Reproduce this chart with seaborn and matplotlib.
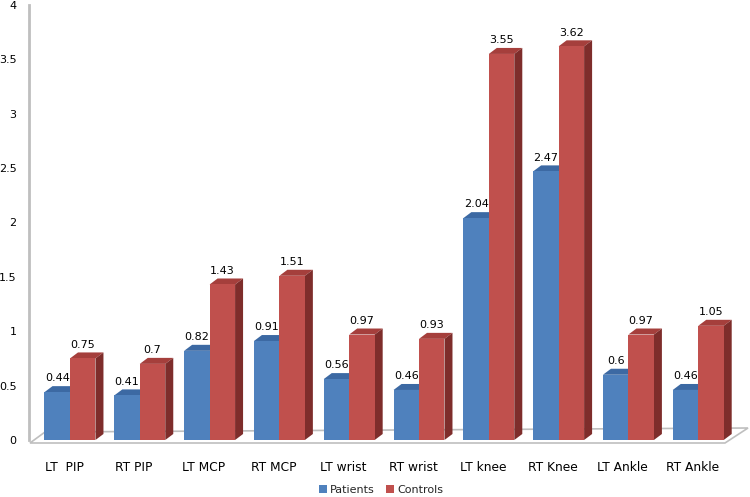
import matplotlib
matplotlib.use("Agg")
import matplotlib.pyplot as plt
import matplotlib.transforms as mtransforms
from matplotlib.patches import Polygon, Patch
import seaborn as sns
import pandas as pd

categories = ["LT  PIP", "RT PIP", "LT MCP", "RT MCP", "LT wrist", "RT wrist",
              "LT knee", "RT Knee", "LT Ankle", "RT Ankle"]
patients = [0.44, 0.41, 0.82, 0.91, 0.56, 0.46, 2.04, 2.47, 0.6, 0.46]
controls = [0.75, 0.7, 1.43, 1.51, 0.97, 0.93, 3.55, 3.62, 0.97, 1.05]
series = ["Patients", "Controls"]
yticks = [0, 0.5, 1, 1.5, 2, 2.5, 3, 3.5, 4]

front = {"Patients": "#4F81BD", "Controls": "#C0504D"}
topc = {"Patients": "#3C69A3", "Controls": "#A53F3C"}
sidec = {"Patients": "#2F5584", "Controls": "#7E2D2B"}

df = pd.DataFrame({
    "Joint": categories * 2,
    "Value": patients + controls,
    "Group": [series[0]] * len(categories) + [series[1]] * len(categories),
})

sns.set_theme(style="white")
plt.rcParams["font.family"] = ["DejaVu Sans"]

fig = plt.figure(figsize=(7.5, 4.97), dpi=100)
ax = fig.add_axes([29 / 750, 57 / 497, (748 - 29) / 750, (440 - 5) / 497])

sns.barplot(data=df, x="Joint", y="Value", hue="Group", hue_order=series,
            palette=front, width=0.73, saturation=1, legend=False, ax=ax,
            linewidth=0, order=categories)

ax.set_xlim(-0.587, 9.713)
ax.set_ylim(0, 4)

# pseudo-3D depth
dx = 8 / 69.8
dy = 6 / 108.75

for i, (cont, name) in enumerate(zip(ax.containers, series)):
    base_z = 3 + 2 * i
    for bar in cont:
        bar.set_zorder(base_z)
        x0 = bar.get_x()
        w = bar.get_width()
        h = bar.get_height()
        x1 = x0 + w
        top = Polygon([(x0, h), (x1, h), (x1 + dx, h + dy), (x0 + dx, h + dy)],
                      closed=True, facecolor=topc[name], edgecolor="none",
                      zorder=base_z - 0.5)
        side = Polygon([(x1, 0), (x1 + dx, dy), (x1 + dx, h + dy), (x1, h)],
                       closed=True, facecolor=sidec[name], edgecolor="none",
                       zorder=base_z - 0.5)
        ax.add_patch(top)
        ax.add_patch(side)
        ax.annotate(f"{h:g}", (x0 + w / 2, h + dy), xytext=(0, 2),
                    textcoords="offset points", ha="center", va="bottom",
                    fontsize=8, color="black", zorder=10)

# floor (styling, axes-fraction coords)
def px(xp, yp):
    return ((xp - 29) / 719, (440 - yp) / 435)

floor_pts = [px(30, 443), px(725, 443), px(748, 428), px(45, 432)]
floor = Polygon(floor_pts, closed=True, transform=ax.transAxes,
                facecolor="white", edgecolor="#BFBFBF", linewidth=1.2,
                clip_on=False, zorder=1)
ax.add_patch(floor)

for s in ["top", "right", "bottom"]:
    ax.spines[s].set_visible(False)
ax.spines["left"].set_color("#BFBFBF")
ax.spines["left"].set_linewidth(2)
ax.spines["left"].set_bounds(0, 4)

ax.set_yticks(yticks)
ax.set_yticklabels([f"{t:g}" for t in yticks])
ax.tick_params(axis="y", length=0, pad=9, labelsize=8, colors="black")
ax.tick_params(axis="x", length=0, pad=15, labelsize=8.8, colors="black")
offset = mtransforms.ScaledTranslation(-6 / 100, 0, fig.dpi_scale_trans)
for lab in ax.get_xticklabels():
    lab.set_transform(lab.get_transform() + offset)

ax.set_xlabel("")
ax.set_ylabel("")
ax.grid(False)

handles = [Patch(facecolor=front[s], edgecolor="none") for s in series]
fig.legend(handles, series, loc="center", bbox_to_anchor=(0.508, 0.014),
           ncol=2, frameon=False, fontsize=8, handlelength=0.7,
           handleheight=0.7, handletextpad=0.3, columnspacing=1.0)

fig.savefig("out.png", dpi=100)
